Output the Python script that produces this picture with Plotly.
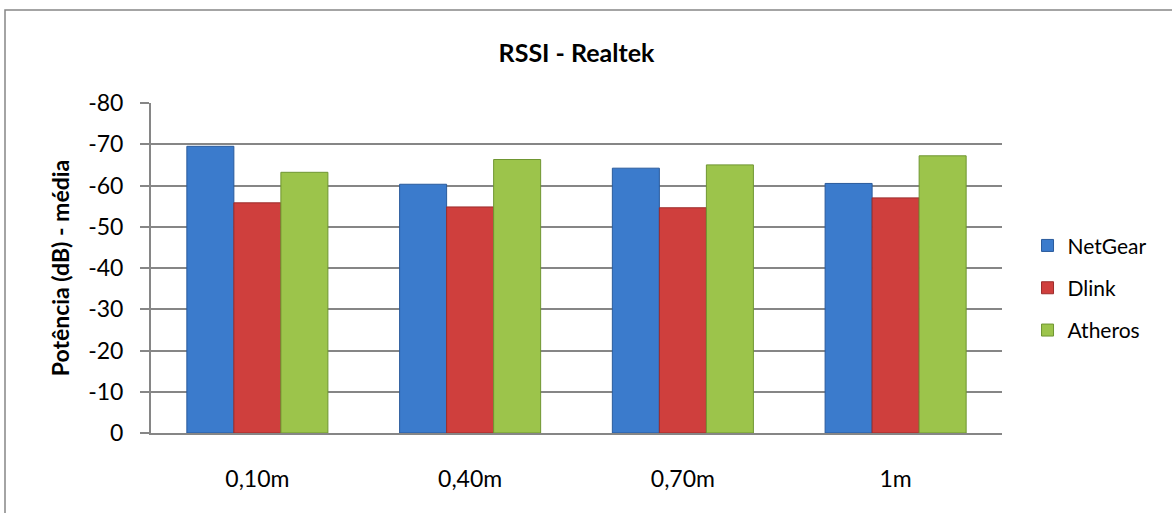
import plotly.graph_objects as go

# Distances and mean RSSI per adapter (dB)
distances = ["0,10m", "0,40m", "0,70m", "1m"]
netgear = [-69.5, -60.3, -64.2, -60.5]
dlink = [-55.8, -54.8, -54.6, -57.0]
atheros = [-63.2, -66.3, -65.0, -67.2]

y_ticks = [0, -10, -20, -30, -40, -50, -60, -70, -80]
y_tick_text = ["0", "-10", "-20", "-30", "-40", "-50", "-60", "-70", "-80"]

series = [
    ("NetGear", netgear, "#3b7bcc", "#2a5b9c"),
    ("Dlink", dlink, "#cf3f3d", "#9c2c2b"),
    ("Atheros", atheros, "#9cc44b", "#6f9632"),
]

FONT = "Lato, 'Open Sans', sans-serif"

fig = go.Figure()
for i, (name, vals, fill, edge) in enumerate(series):
    fig.add_trace(go.Bar(
        x=distances,
        y=vals,
        name=name,
        legendgroup=f"g{i}",
        marker=dict(color=fill, line=dict(color=edge, width=1)),
    ))

fig.update_layout(
    width=1172,
    height=513,
    margin=dict(l=151, r=170, t=103, b=80),
    paper_bgcolor="white",
    plot_bgcolor="white",
    barmode="group",
    bargap=0.337,
    bargroupgap=0,
    font=dict(family=FONT, size=22, color="#000000"),
    title=dict(
        text="<b>RSSI - Realtek</b>",
        x=0.5,
        xref="paper",
        xanchor="center",
        y=1 - 53 / 513,
        yanchor="middle",
        font=dict(family=FONT, size=25, color="#000000"),
    ),
    legend=dict(
        x=1.03,
        xanchor="left",
        y=0.44,
        yanchor="middle",
        font=dict(family=FONT, size=21),
        tracegroupgap=12,
        itemwidth=30,
        bgcolor="rgba(0,0,0,0)",
    ),
    showlegend=True,
)

fig.update_xaxes(
    showline=True,
    linecolor="#868686",
    linewidth=2,
    ticks="",
    showgrid=False,
    ticklabelstandoff=24,
    tickfont=dict(family=FONT, size=23),
)

fig.update_yaxes(
    range=[0, -80],
    tickvals=y_ticks,
    ticktext=y_tick_text,
    showline=True,
    linecolor="#868686",
    linewidth=2,
    ticks="outside",
    ticklen=9,
    tickcolor="#868686",
    tickwidth=1.5,
    showgrid=True,
    gridcolor="#868686",
    gridwidth=1.5,
    zeroline=False,
    ticklabelstandoff=12,
    tickfont=dict(family=FONT, size=23),
    title=dict(
        text="<b>Potência (dB) - média</b>",
        font=dict(family=FONT, size=23),
        standoff=12,
    ),
)

# Chart frame
fig.add_shape(
    type="rect",
    xref="paper", yref="paper",
    x0=(5 - 151) / 851, x1=1.3,
    y0=-0.5, y1=(433 - 10) / 330,
    line=dict(color="#868686", width=1.5),
    fillcolor="rgba(0,0,0,0)",
    layer="below",
)

fig.write_html("out.html")
